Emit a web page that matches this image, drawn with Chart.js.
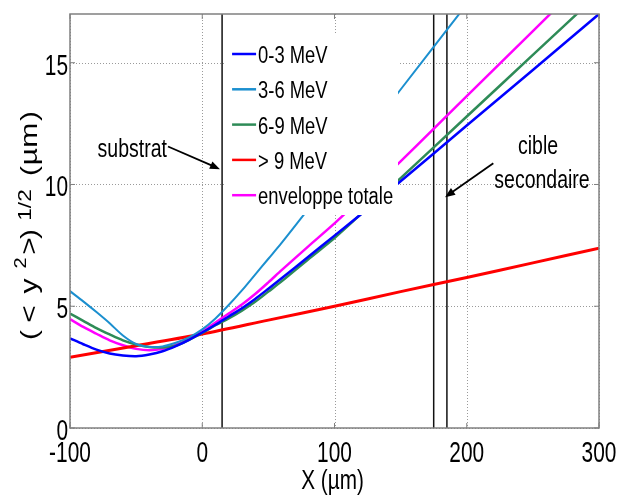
<!DOCTYPE html>
<html>
<head>
<meta charset="utf-8">
<script src="https://cdn.jsdelivr.net/npm/chart.js@4.4.1/dist/chart.umd.min.js"></script>
<style>
  body { margin: 0; background: #fff; }
  #wrap { width: 618px; height: 500px; }
</style>
</head>
<body>
<div id="wrap"><canvas id="graphe"></canvas></div>
<script>
// abscisses communes (µm)
const xs = [-100, -90, -80, -70, -60, -50, -40, -30, -20, -10, 0, 10, 20, 30, 40, 50, 60, 80, 100, 120, 150, 200, 250, 300];
const y0_3 = [3.68, 3.44, 3.22, 3.06, 2.98, 2.95, 3.02, 3.15, 3.36, 3.62, 3.92, 4.24, 4.58, 4.92, 5.3, 5.72, 6.15, 7.02, 7.9, 8.78, 10.13, 12.42, 14.7, 17.0];
const y3_6 = [5.62, 5.2, 4.76, 4.3, 3.8, 3.45, 3.33, 3.35, 3.5, 3.72, 4.05, 4.5, 5.05, 5.65, 6.3, 6.95, 7.6, 8.98, 10.38, 11.78, 13.9, 17.4, 20.9, 24.4];
const y6_9 = [4.7, 4.4, 4.1, 3.84, 3.6, 3.43, 3.33, 3.31, 3.38, 3.62, 3.9, 4.22, 4.5, 4.82, 5.18, 5.6, 6.02, 6.92, 7.8, 8.78, 10.26, 12.79, 15.32, 17.85];
const yEnv = [4.47, 4.15, 3.87, 3.6, 3.4, 3.25, 3.19, 3.25, 3.42, 3.65, 3.97, 4.33, 4.7, 5.07, 5.5, 5.98, 6.48, 7.45, 8.4, 9.42, 10.95, 13.63, 16.3, 18.97];
// > 9 MeV, quasi droite
const xsRouge = [-100, -50, 0, 50, 100, 150, 200, 250, 300];
const y9 = [2.9, 3.38, 3.86, 4.43, 5.0, 5.6, 6.18, 6.78, 7.38];

const noms = ['0-3 MeV', '3-6 MeV', '6-9 MeV', '> 9 MeV', 'enveloppe totale'];
const couleurs = ['#0000ff', '#1b8fcf', '#2e8b57', '#ff0000', '#ff00ff'];
const epaisseurs = [2.5, 2, 2.5, 3, 2.5];

// traits verticaux : substrat et cible secondaire
const xTraits = [15, 175, 185];

const xTicks = [-100, 0, 100, 200, 300];
const yTicks = [0, 5, 10, 15];

const pts = (xx, yy) => xx.map((x, i) => ({ x: x, y: yy[i] }));

const series = [pts(xs, y0_3), pts(xs, y3_6), pts(xs, y6_9), pts(xsRouge, y9), pts(xs, yEnv)];

const datasets = series.map((d, i) => ({
    label: noms[i],
    data: d,
    borderColor: couleurs[i],
    borderWidth: epaisseurs[i],
    pointRadius: 0,
    showLine: true,
    tension: 0.3,
    fill: false
}));
xTraits.forEach(x => {
    datasets.push({
        label: '',
        data: [{ x: x, y: 0 }, { x: x, y: 17 }],
        borderColor: '#111',
        borderWidth: 1.5,
        pointRadius: 0,
        showLine: true
    });
});

function texte(ctx, str, x, y, taille, align, sx) {
    ctx.save();
    ctx.translate(x, y);
    ctx.scale(sx, 1);
    ctx.font = taille + 'px "Liberation Sans", Arial, sans-serif';
    ctx.textAlign = align;
    ctx.textBaseline = 'alphabetic';
    ctx.fillStyle = '#000';
    ctx.fillText(str, 0, 0);
    ctx.restore();
}

function fleche(ctx, x1, y1, x2, y2) {
    const ang = Math.atan2(y2 - y1, x2 - x1);
    ctx.save();
    ctx.strokeStyle = '#000';
    ctx.fillStyle = '#000';
    ctx.lineWidth = 1.8;
    ctx.beginPath();
    ctx.moveTo(x1, y1);
    ctx.lineTo(x2 - 8 * Math.cos(ang), y2 - 8 * Math.sin(ang));
    ctx.stroke();
    ctx.beginPath();
    ctx.moveTo(x2, y2);
    ctx.lineTo(x2 - 10 * Math.cos(ang) + 4 * Math.sin(ang), y2 - 10 * Math.sin(ang) - 4 * Math.cos(ang));
    ctx.lineTo(x2 - 10 * Math.cos(ang) - 4 * Math.sin(ang), y2 - 10 * Math.sin(ang) + 4 * Math.cos(ang));
    ctx.closePath();
    ctx.fill();
    ctx.restore();
}

const habillage = {
    id: 'habillage',
    beforeDatasetsDraw(chart) {
        // grille pointillée
        const ctx = chart.ctx;
        const sx = chart.scales.x, sy = chart.scales.y;
        const a = chart.chartArea;
        ctx.save();
        ctx.strokeStyle = '#9a9a9a';
        ctx.lineWidth = 1;
        ctx.setLineDash([1, 2]);
        xTicks.forEach(v => {
            const x = Math.round(sx.getPixelForValue(v)) + 0.5;
            ctx.beginPath();
            ctx.moveTo(x, a.top); ctx.lineTo(x, a.bottom);
            ctx.stroke();
        });
        yTicks.forEach(v => {
            const y = Math.round(sy.getPixelForValue(v)) + 0.5;
            ctx.beginPath();
            ctx.moveTo(a.left, y); ctx.lineTo(a.right, y);
            ctx.stroke();
        });
        ctx.restore();
    },
    afterDatasetsDraw(chart) {
        const ctx = chart.ctx;
        const sx = chart.scales.x, sy = chart.scales.y;
        const a = chart.chartArea;
        const px = v => sx.getPixelForValue(v);
        const py = v => sy.getPixelForValue(v);

        // légende (fond blanc qui masque les courbes), collée au trait du substrat
        const lx = px(xTraits[0]) + 2;
        ctx.save();
        ctx.fillStyle = '#fff';
        ctx.fillRect(lx, 34, 398 - lx, 181);
        noms.forEach((n, i) => {
            const yy = 54 + i * 35.3;
            ctx.strokeStyle = couleurs[i];
            ctx.lineWidth = 2.5;
            ctx.beginPath();
            ctx.moveTo(lx + 8, yy);
            ctx.lineTo(lx + 32, yy);
            ctx.stroke();
            texte(ctx, n, lx + 34, yy + 9, 23, 'left', 0.8);
        });
        ctx.restore();

        // annotations
        texte(ctx, 'substrat', px(-26.7), py(11.11), 25, 'right', 0.78);
        fleche(ctx, px(-25.9), py(11.56), px(13.4), py(10.63));
        texte(ctx, 'cible', px(253.9), py(11.27), 25, 'center', 0.78);
        texte(ctx, 'secondaire', px(256.9), py(9.84), 25, 'center', 0.78);
        fleche(ctx, px(220.1), py(10.87), px(183.6), py(9.48));

        // cadre
        ctx.save();
        ctx.strokeStyle = '#808080';
        ctx.lineWidth = 1.5;
        ctx.strokeRect(a.left, a.top, a.right - a.left, a.bottom - a.top);
        ctx.lineWidth = 1;
        xTicks.forEach(v => {
            const x = px(v);
            ctx.beginPath();
            ctx.moveTo(x, a.bottom); ctx.lineTo(x, a.bottom - 5);
            ctx.moveTo(x, a.top); ctx.lineTo(x, a.top + 5);
            ctx.stroke();
        });
        yTicks.forEach(v => {
            const y = py(v);
            ctx.beginPath();
            ctx.moveTo(a.left, y); ctx.lineTo(a.left + 5, y);
            ctx.moveTo(a.right, y); ctx.lineTo(a.right - 5, y);
            ctx.stroke();
        });
        ctx.restore();

        // étiquettes des graduations
        xTicks.forEach(v => texte(ctx, String(v), px(v), a.bottom + 34, 29, 'center', 0.72));
        yTicks.forEach(v => texte(ctx, String(v), a.left - 2, py(v) + 12, 29, 'right', 0.72));

        // titres des axes
        texte(ctx, 'X (µm)', (a.left + a.right) / 2 - 2, 489, 28, 'center', 0.74);
        const morceaux = [
            ['(', 335, 37, 24], ['<', 314, 37, 24], ['y', 286, 37, 24], ['2', 263, 26, 16],
            ['>', 246, 37, 24], [')', 234, 37, 24], ['1/2', 205, 31, 18],
            ['(', 171, 37, 24], ['µm', 144, 37, 24], [')', 116, 37, 24]
        ];
        morceaux.forEach(m => {
            ctx.save();
            ctx.translate(m[2], m[1]);
            ctx.rotate(-Math.PI / 2);
            texte(ctx, m[0], 0, 0, m[3], 'center', 1.25);
            ctx.restore();
        });
    }
};

new Chart(document.getElementById('graphe'), {
    type: 'scatter',
    data: { datasets: datasets },
    options: {
        responsive: true,
        maintainAspectRatio: false,
        animation: false,
        layout: { padding: { left: 70, top: 14, right: 19, bottom: 72 } },
        plugins: { legend: { display: false }, tooltip: { enabled: false } },
        scales: {
            x: {
                type: 'linear', min: -100, max: 300,
                afterBuildTicks: s => { s.ticks = xTicks.map(v => ({ value: v })); },
                ticks: { display: false },
                grid: { color: 'rgba(0,0,0,0)', drawTicks: false },
                border: { display: false }
            },
            y: {
                type: 'linear', min: 0, max: 17,
                afterBuildTicks: s => { s.ticks = yTicks.map(v => ({ value: v })); },
                ticks: { display: false },
                grid: { color: 'rgba(0,0,0,0)', drawTicks: false },
                border: { display: false }
            }
        }
    },
    plugins: [habillage]
});
</script>
</body>
</html>
